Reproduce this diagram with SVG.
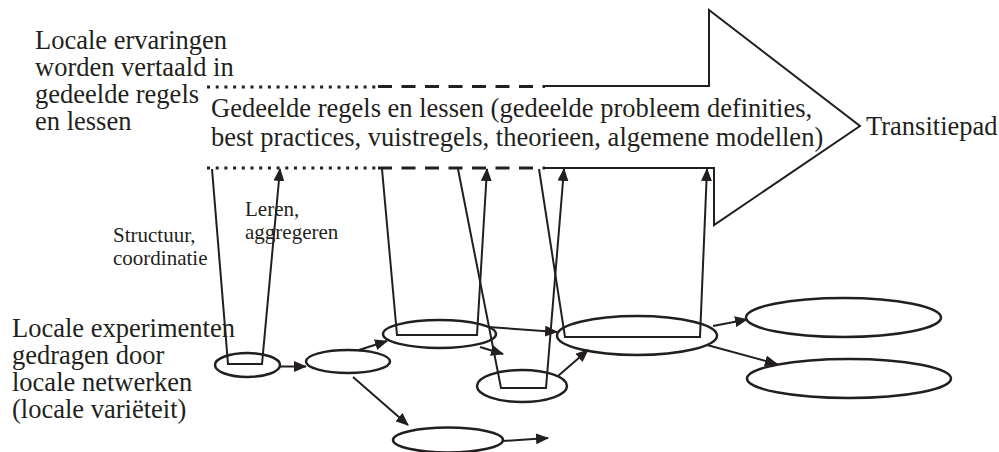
<svg xmlns="http://www.w3.org/2000/svg" width="999" height="452" viewBox="0 0 999 452">
<style>
.t{font-family:"Liberation Serif","Times New Roman",serif;fill:#231f20}
.big{font-size:26.5px}
.sm{font-size:21px}
.ln{fill:none;stroke:#231f20;stroke-width:2}
.el{fill:none;stroke:#231f20;stroke-width:2.5}
.dot{fill:none;stroke:#231f20;stroke-width:3;stroke-dasharray:3 5.7}
.dash{fill:none;stroke:#231f20;stroke-width:3;stroke-dasharray:14 9.5}
</style>
<defs>
<marker id="ah" markerUnits="userSpaceOnUse" markerWidth="13" markerHeight="11" refX="12" refY="5.5" orient="auto">
<path d="M0,0 L13,5.5 L0,11 z" fill="#231f20"/>
</marker>
</defs>
<rect width="999" height="452" fill="#fff"/>

<g id="transitiepad-arrow">
<line class="dot" x1="207" y1="87" x2="376" y2="87"/>
<line class="dash" x1="378" y1="86.5" x2="545" y2="86.5"/>
<polyline class="ln" stroke-width="2.5" points="545,86 709,86 709,10 860,126 714,225 714,168 545,168"/>
<line class="dash" x1="378" y1="168" x2="545" y2="168"/>
<line class="dot" x1="207" y1="168" x2="376" y2="168"/>
<text class="t big"><tspan x="211" y="117">Gedeelde regels en lessen (gedeelde probleem definities,</tspan><tspan x="211" y="146">best practices, vuistregels, theorieen, algemene modellen)</tspan></text>
</g>
<g id="label-transitiepad"><text class="t big" x="866" y="135">Transitiepad</text></g>
<g id="label-ervaringen">
<text class="t big"><tspan x="35" y="49">Locale ervaringen</tspan><tspan x="35" y="76">worden vertaald in</tspan><tspan x="35" y="103">gedeelde regels</tspan><tspan x="35" y="130">en lessen</tspan></text>
</g>
<g id="label-experimenten">
<text class="t big"><tspan x="12" y="337">Locale experimenten</tspan><tspan x="12" y="364">gedragen door</tspan><tspan x="12" y="391">locale netwerken</tspan><tspan x="12" y="418">(locale variëteit)</tspan></text>
</g>
<g id="label-leren">
<text class="t sm"><tspan x="245" y="216">Leren,</tspan><tspan x="245" y="239">aggregeren</tspan></text>
</g>
<g id="label-structuur">
<text class="t sm"><tspan x="113" y="242">Structuur,</tspan><tspan x="113" y="265">coordinatie</tspan></text>
</g>

<g id="node-a"><ellipse class="el" cx="247.5" cy="365" rx="32.5" ry="12"/></g>
<g id="node-b"><ellipse class="el" cx="348" cy="361.5" rx="42" ry="11.5"/></g>
<g id="node-c"><ellipse class="el" cx="439.5" cy="334" rx="56.5" ry="14"/></g>
<g id="node-d"><ellipse class="el" cx="522" cy="386" rx="45" ry="16"/></g>
<g id="node-e"><ellipse class="el" cx="637" cy="335.5" rx="80" ry="19.5"/></g>
<g id="node-f"><ellipse class="el" cx="448" cy="440" rx="55" ry="12.5"/></g>
<g id="node-g"><ellipse class="el" cx="843.5" cy="317.5" rx="97.5" ry="19.5"/></g>
<g id="node-h"><ellipse class="el" cx="849" cy="378.5" rx="102" ry="19.5"/></g>

<g id="connectors">
<polyline class="ln" points="212,169 228,364 262,364 280,169" marker-end="url(#ah)"/>
<polyline class="ln" points="382,169 397,335 477,335 487,169" marker-end="url(#ah)"/>
<polyline class="ln" points="458,169 501,388 546,388 564,169" marker-end="url(#ah)"/>
<polyline class="ln" points="539,169 565,337 700,337 707,169" marker-end="url(#ah)"/>
<line class="ln" x1="280" y1="366.5" x2="306" y2="366.5" marker-end="url(#ah)"/>
<line class="ln" x1="359" y1="350" x2="387" y2="341" marker-end="url(#ah)"/>
<line class="ln" x1="353" y1="377" x2="408" y2="425" marker-end="url(#ah)"/>
<line class="ln" x1="503" y1="441" x2="548" y2="438" marker-end="url(#ah)"/>
<line class="ln" x1="488" y1="327" x2="557" y2="332" marker-end="url(#ah)"/>
<line class="ln" x1="480" y1="347" x2="503" y2="354" marker-end="url(#ah)"/>
<line class="ln" stroke-width="2.5" x1="558" y1="376" x2="588" y2="350" marker-end="url(#ah)"/>
<line class="ln" x1="713" y1="326" x2="747" y2="319.5" marker-end="url(#ah)"/>
<line class="ln" x1="707" y1="345" x2="777" y2="364" marker-end="url(#ah)"/>
</g>
</svg>
